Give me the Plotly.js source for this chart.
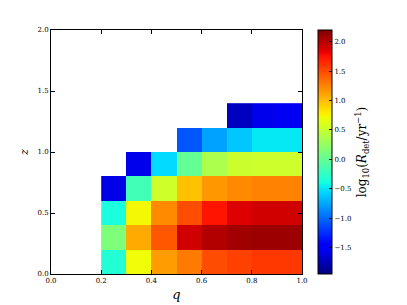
<!DOCTYPE html>
<html><head><meta charset="utf-8">
<script src="https://cdn.plot.ly/plotly-3.0.1.min.js"></script>
<style>html,body{margin:0;padding:0;background:#fff;}#plot{width:407px;height:305px;}</style>
</head><body><div id="plot"></div>
<script>
// q bin centres
var qCenters = [0.25, 0.35, 0.45, 0.55, 0.65, 0.75, 0.85, 0.95];
// z bin centres
var zCenters = [0.1, 0.3, 0.5, 0.7, 0.9, 1.1, 1.3];
// log10(R_det / yr^-1), one row per z bin (null = no detections)
var row_z01 = [-0.33, 0.71, 1.14, 1.29, 1.49, 1.54, 1.58, 1.58];
var row_z03 = [0.13, 1.08, 1.45, 1.91, 2.02, 2.08, 2.10, 2.10];
var row_z05 = [-0.37, 0.73, 1.22, 1.49, 1.74, 1.87, 1.91, 1.91];
var row_z07 = [-1.58, -0.17, 0.54, 0.98, 1.16, 1.22, 1.25, 1.25];
var row_z09 = [null, -1.56, -0.54, 0.0, 0.37, 0.52, 0.53, 0.53];
var row_z11 = [null, null, null, -1.08, -0.77, -0.62, -0.48, -0.48];
var row_z13 = [null, null, null, null, null, -1.72, -1.56, -1.53];
var xTicks = [0, 0.2, 0.4, 0.6, 0.8, 1.0];
var xTickText = ["0.0", "0.2", "0.4", "0.6", "0.8", "1.0"];
var yTicks = [0, 0.5, 1.0, 1.5, 2.0];
var yTickText = ["0.0", "0.5", "1.0", "1.5", "2.0"];
var cbTicks = [-1.5, -1.0, -0.5, 0.0, 0.5, 1.0, 1.5, 2.0];
var cbTickText = ["\u22121.5", "\u22121.0", "\u22120.5", "0.0", "0.5", "1.0", "1.5", "2.0"];

var jet = [
  [0, 'rgb(0,0,128)'], [0.11, 'rgb(0,0,255)'], [0.125, 'rgb(0,0,255)'],
  [0.34, 'rgb(0,219,255)'], [0.35, 'rgb(0,229,247)'], [0.375, 'rgb(21,255,226)'],
  [0.64, 'rgb(239,255,8)'], [0.65, 'rgb(247,245,0)'], [0.66, 'rgb(255,236,0)'],
  [0.89, 'rgb(255,19,0)'], [0.91, 'rgb(232,0,0)'], [1, 'rgb(128,0,0)']
];

var serif = "DejaVu Serif, Liberation Serif, serif";
var trace = {
  type: 'heatmap',
  x: qCenters, y: zCenters,
  z: [row_z01, row_z03, row_z05, row_z07, row_z09, row_z11, row_z13],
  colorscale: jet, zmin: -1.95, zmax: 2.2,
  hoverongaps: false,
  colorbar: {
    x: 1.064, xanchor: 'left', xref: 'paper', xpad: 0,
    y: 0.5, yanchor: 'middle', ypad: 0,
    len: 244, lenmode: 'pixels', thickness: 14, thicknessmode: 'pixels',
    outlinewidth: 1, outlinecolor: '#000',
    tickvals: cbTicks, ticktext: cbTickText,
    ticks: 'inside', ticklen: 3, tickcolor: '#000',
    tickfont: {family: serif, size: 7, color: '#000'},
    title: {text: 'log<sub>10</sub>(<i>R</i><sub>det</sub>/yr<sup>\u22121</sup>)', side: 'right',
            font: {family: serif, size: 12, color: '#000'}}
  }
};
var layout = {
  width: 407, height: 305,
  margin: {l: 51, r: 105, t: 30, b: 31, pad: 0},
  paper_bgcolor: '#fff', plot_bgcolor: '#fff',
  xaxis: {range: [0, 1], tickvals: xTicks, ticktext: xTickText,
    ticks: 'inside', ticklen: 4, tickcolor: '#000', mirror: 'ticks',
    showline: true, linecolor: '#000', linewidth: 1, showgrid: false, zeroline: false,
    tickfont: {family: serif, size: 7, color: '#000'},
    title: {text: '<i>q</i>', font: {family: serif, size: 13, color: '#000'}, standoff: 5}},
  yaxis: {range: [0, 2], tickvals: yTicks, ticktext: yTickText,
    ticks: 'inside', ticklen: 4, tickcolor: '#000', mirror: 'ticks',
    showline: true, linecolor: '#000', linewidth: 1, showgrid: false, zeroline: false,
    tickfont: {family: serif, size: 7, color: '#000'},
    title: {text: '<i>z</i>', font: {family: serif, size: 11, color: '#000'}, standoff: 6}}
};
Plotly.newPlot('plot', [trace], layout, {displayModeBar: false, staticPlot: true});
</script></body></html>
